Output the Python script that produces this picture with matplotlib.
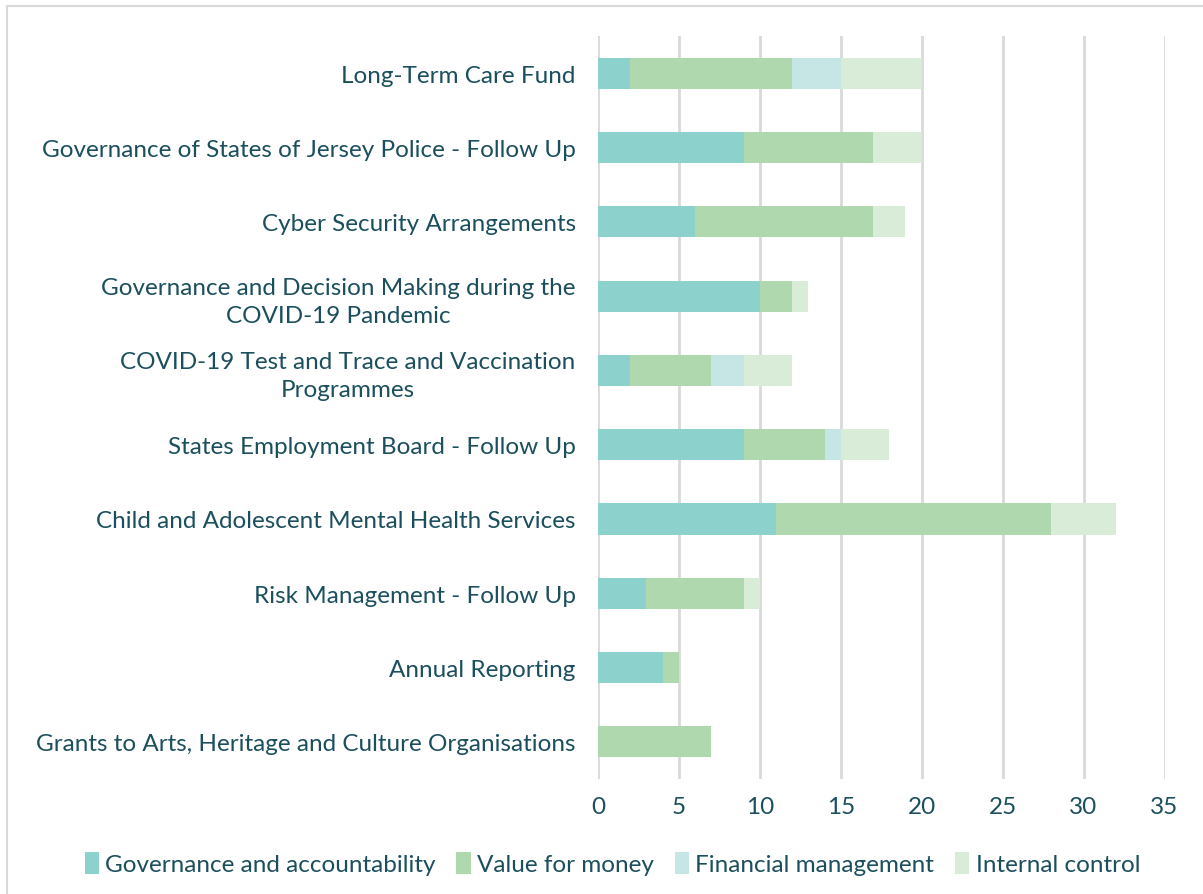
import matplotlib
matplotlib.use("Agg")
import matplotlib.pyplot as plt
from matplotlib.patches import Rectangle

categories = [
    "Long-Term Care Fund",
    "Governance of States of Jersey Police - Follow Up",
    "Cyber Security Arrangements",
    "Governance and Decision Making during the\nCOVID-19 Pandemic",
    "COVID-19 Test and Trace and Vaccination\nProgrammes",
    "States Employment Board - Follow Up",
    "Child and Adolescent Mental Health Services",
    "Risk Management - Follow Up",
    "Annual Reporting",
    "Grants to Arts, Heritage and Culture Organisations",
]
series_names = ["Governance and accountability", "Value for money",
                "Financial management", "Internal control"]
governance = [2, 9, 6, 10, 2, 9, 11, 3, 4, 0]
value_money = [10, 8, 11, 2, 5, 5, 17, 6, 1, 7]
financial = [3, 0, 0, 0, 2, 1, 0, 0, 0, 0]
internal = [5, 3, 2, 1, 3, 3, 4, 1, 0, 0]
xticks = [0, 5, 10, 15, 20, 25, 30, 35]

colors = ["#8DD1CC", "#AFD8AF", "#C6E6E5", "#D8ECD7"]
text_color = "#1B4F5E"
plt.rcParams['font.family'] = ['Lato', 'DejaVu Sans']
fs = 17.5

fig = plt.figure(figsize=(12.03, 8.95), dpi=100)
ax = fig.add_axes([0.497, 0.1285, 0.471, 0.83])

y = list(range(len(categories)))
left = [0] * len(categories)
for name, vals, c in zip(series_names, [governance, value_money, financial, internal], colors):
    ax.barh(y, vals, left=left, height=0.42, color=c, label=name, zorder=3)
    left = [l + v for l, v in zip(left, vals)]

ax.set_yticks(y)
ax.set_yticklabels(categories, fontsize=fs, color=text_color, ha="right",
                   multialignment="center", linespacing=1.4)
ax.set_ylim(len(categories) - 0.5, -0.5)
ax.set_xlim(0, 35)
ax.set_xticks(xticks)
ax.set_xticklabels([str(t) for t in xticks], fontsize=fs, color=text_color)
ax.tick_params(axis="x", length=0, pad=12)
ax.tick_params(axis="y", length=0, pad=16)
ax.grid(axis="x", color="#D9D9D9", linewidth=2, zorder=0)
for s in ax.spines.values():
    s.set_visible(False)

leg = fig.legend(loc="center", bbox_to_anchor=(0.509, 0.034), ncol=4, frameon=False,
                 fontsize=fs, handlelength=0.6, handleheight=1.0, handletextpad=0.25,
                 columnspacing=0.85, labelcolor=text_color)

fig.patches.append(Rectangle((0.006, -0.01), 1.5, 1.002, transform=fig.transFigure,
                             fill=False, edgecolor="#D9D9D9", linewidth=1.5))
fig.savefig("out.png", dpi=100)
